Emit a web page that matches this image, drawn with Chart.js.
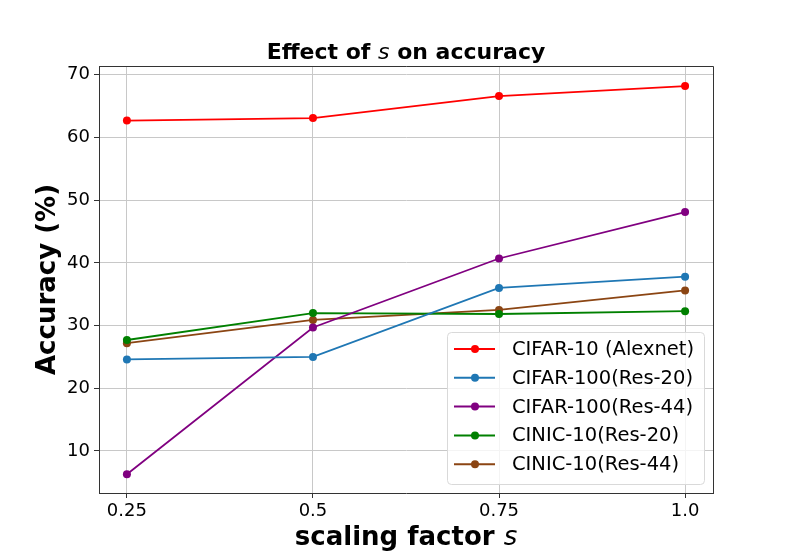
<!DOCTYPE html>
<html>
<head>
<meta charset="utf-8">
<script src="https://cdn.jsdelivr.net/npm/chart.js@4"></script>
<style>
    html, body { margin: 0; padding: 0; background: #fff; }
    canvas { display: block; }
</style>
</head>
<body>
<canvas id="accuracyChart" width="793" height="555"></canvas>
<script>
const scaleFactors = [0.25, 0.5, 0.75, 1.0];
const xTickLabels = ["0.25", "0.5", "0.75", "1.0"];
const yTickValues = [10, 20, 30, 40, 50, 60, 70];

const seriesNames = [
    "CIFAR-10 (Alexnet)",
    "CIFAR-100(Res-20)",
    "CIFAR-100(Res-44)",
    "CINIC-10(Res-20)",
    "CINIC-10(Res-44)"
];
const cifar10Alexnet = [62.7, 63.1, 66.6, 68.2];
const cifar100Res20 = [24.6, 25.0, 36.0, 37.8];
const cifar100Res44 = [6.3, 29.7, 40.7, 48.1];
const cinic10Res20 = [27.7, 32.0, 31.85, 32.3];
const cinic10Res44 = [27.2, 30.9, 32.5, 35.6];

const seriesColors = ["#ff0000", "#1f77b4", "#800080", "#008000", "#8b4513"];
const seriesValues = [cifar10Alexnet, cifar100Res20, cifar100Res44, cinic10Res20, cinic10Res44];

const FONT = "'DejaVu Sans', sans-serif";

// draw text pieces in a row, mixing bold and italic like matplotlib mathtext
function drawMixed(ctx, parts, cx, y) {
    let total = 0;
    parts.forEach(p => { ctx.font = p.font; total += ctx.measureText(p.text).width; });
    let x = cx - total / 2;
    parts.forEach(p => {
        ctx.font = p.font;
        ctx.fillText(p.text, x, y);
        x += ctx.measureText(p.text).width;
    });
}

const decorPlugin = {
    id: "decor",
    afterDraw(chart) {
        const ctx = chart.ctx;
        const a = chart.chartArea;
        ctx.save();

        // top and right spines
        ctx.strokeStyle = "#333";
        ctx.lineWidth = 1;
        ctx.beginPath();
        ctx.moveTo(a.left, a.top + 0.5);
        ctx.lineTo(a.right + 0.5, a.top + 0.5);
        ctx.lineTo(a.right + 0.5, a.bottom);
        ctx.stroke();

        ctx.fillStyle = "#000";
        ctx.textBaseline = "alphabetic";
        ctx.textAlign = "left";

        // title
        drawMixed(ctx, [
            { text: "Effect of ", font: "bold 22px " + FONT },
            { text: "s", font: "oblique 22px " + FONT },
            { text: " on accuracy", font: "bold 22px " + FONT }
        ], (a.left + a.right) / 2, 59);

        // x axis title
        drawMixed(ctx, [
            { text: "scaling factor ", font: "bold 26px " + FONT },
            { text: "s", font: "oblique 26px " + FONT }
        ], (a.left + a.right) / 2, 545);

        // y axis title
        ctx.translate(55, (a.top + a.bottom) / 2);
        ctx.rotate(-Math.PI / 2);
        ctx.textAlign = "center";
        ctx.font = "bold 26px " + FONT;
        ctx.fillText("Accuracy (%)", 0, 0);
        ctx.restore();

        // legend, matplotlib style
        ctx.save();
        const boxL = 447, boxT = 332, boxR = 704, boxB = 484;
        ctx.fillStyle = "rgba(255,255,255,0.8)";
        ctx.strokeStyle = "#d9d9d9";
        ctx.lineWidth = 1;
        ctx.beginPath();
        ctx.roundRect(boxL + 0.5, boxT + 0.5, boxR - boxL, boxB - boxT, 4);
        ctx.fill();
        ctx.stroke();
        ctx.font = "19.5px " + FONT;
        ctx.textBaseline = "middle";
        ctx.textAlign = "left";
        chart.data.datasets.forEach((ds, i) => {
            const y = 349 + i * 28.8;
            ctx.strokeStyle = ds.borderColor;
            ctx.lineWidth = 2;
            ctx.beginPath();
            ctx.moveTo(454, y);
            ctx.lineTo(495, y);
            ctx.stroke();
            ctx.fillStyle = ds.borderColor;
            ctx.beginPath();
            ctx.arc(475, y, 4, 0, Math.PI * 2);
            ctx.fill();
            ctx.fillStyle = "#000";
            ctx.fillText(ds.label, 512, y + 1);
        });
        ctx.restore();
    }
};

const datasets = seriesNames.map((name, i) => ({
    label: name,
    data: scaleFactors.map((x, j) => ({ x: x, y: seriesValues[i][j] })),
    borderColor: seriesColors[i],
    backgroundColor: seriesColors[i],
    borderWidth: 1.8,
    pointRadius: 4,
    pointHoverRadius: 4,
    pointBorderWidth: 0,
    tension: 0
}));

new Chart(document.getElementById("accuracyChart"), {
    type: "line",
    data: { datasets: datasets },
    options: {
        responsive: false,
        animation: false,
        events: [],
        layout: { padding: { left: 0, right: 80, top: 66, bottom: 0 } },
        plugins: {
            legend: { display: false },
            title: { display: false },
            tooltip: { enabled: false }
        },
        scales: {
            x: {
                type: "linear",
                min: 0.2125,
                max: 1.0375,
                afterBuildTicks(scale) {
                    scale.ticks = scaleFactors.map(v => ({ value: v }));
                },
                afterFit(scale) { scale.height = 62; },
                ticks: {
                    autoSkip: false,
                    maxRotation: 0,
                    padding: 3,
                    color: "#000",
                    font: { family: FONT, size: 18 },
                    callback: function (value) {
                        const idx = scaleFactors.indexOf(value);
                        return idx >= 0 ? xTickLabels[idx] : "";
                    }
                },
                grid: { color: "#c8c8c8", lineWidth: 1, tickLength: 5, tickColor: "#333" },
                border: { color: "#333", width: 1 }
            },
            y: {
                type: "linear",
                min: 3.3,
                max: 71.4,
                afterBuildTicks(scale) {
                    scale.ticks = yTickValues.map(v => ({ value: v }));
                },
                afterFit(scale) { scale.width = 99; },
                ticks: {
                    autoSkip: false,
                    padding: 4,
                    color: "#000",
                    font: { family: FONT, size: 18 },
                    callback: function (value) { return String(value); }
                },
                grid: { color: "#c8c8c8", lineWidth: 1, tickLength: 5, tickColor: "#333" },
                border: { color: "#333", width: 1 }
            }
        }
    },
    plugins: [decorPlugin]
});
</script>
</body>
</html>
